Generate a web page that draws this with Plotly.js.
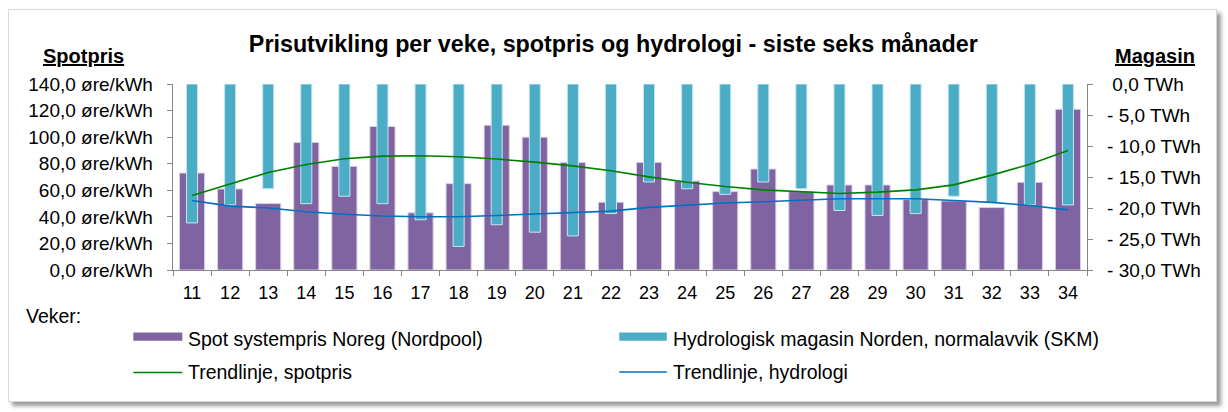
<!DOCTYPE html>
<html>
<head>
<meta charset="utf-8">
<script src="https://cdn.plot.ly/plotly-3.0.1.min.js"></script>
<style>
  body { margin: 0; background: #ffffff; }
  #frame {
    position: absolute; left: 8px; top: 9px;
    width: 1207px; height: 391px;
    border: 1px solid #d9d9d9;
    box-shadow: 4px 4px 4px #9a9a9a;
    background: #ffffff;
  }
  #chart { width: 1207px; height: 391px; }
</style>
</head>
<body>
<div id="frame"><div id="chart"></div></div>
<script>
const FONT = 'Liberation Sans, Arial, sans-serif';
const PURPLE = '#8064A2';
const CYAN = '#4BACC6';
const GREEN = '#008000';
const BLUE = '#0070C0';
const AXIS = '#868686';

// weeks on the x axis
const weeks = ['11', '12', '13', '14', '15', '16', '17', '18', '19', '20', '21', '22',
               '23', '24', '25', '26', '27', '28', '29', '30', '31', '32', '33', '34'];

// spot system price Norway, øre/kWh
const spot = [73, 61, 50, 96, 78, 108, 43, 65, 109, 100, 81, 51,
              81, 67, 59, 76, 59, 64, 64, 53, 52, 47, 66, 121];

// reservoir deviation from normal, TWh
const hydro = [-22.4, -19.5, -16.9, -19.3, -18.1, -19.3, -21.9, -26.2, -22.7, -23.9, -24.5, -20.9,
               -15.8, -16.9, -17.8, -15.8, -16.9, -20.4, -21.2, -20.9, -18.1, -19.1, -19.5, -19.5];

// trend lines
const spotTrend = [56.0, 64.6, 73.4, 79.4, 83.7, 85.7, 86.0, 85.2, 83.5, 81.2, 78.4, 74.7,
                   70.1, 66.1, 62.8, 60.3, 58.8, 57.6, 58.6, 60.3, 64.1, 71.4, 79.6, 89.9];
const hydroTrend = [-18.8, -19.7, -20.0, -20.6, -21.0, -21.3, -21.4, -21.4, -21.2, -21.0, -20.7, -20.5,
                    -19.9, -19.5, -19.2, -19.0, -18.7, -18.5, -18.5, -18.5, -18.8, -19.1, -19.6, -20.3];

// tick labels
const leftTicks = [0, 20, 40, 60, 80, 100, 120, 140];
const leftLabels = ['0,0 øre/kWh', '20,0 øre/kWh', '40,0 øre/kWh', '60,0 øre/kWh',
                    '80,0 øre/kWh', '100,0 øre/kWh', '120,0 øre/kWh', '140,0 øre/kWh'];
const rightTicks = [0, -5, -10, -15, -20, -25, -30];
const rightLabels = ['\u00a00,0 TWh', '- 5,0 TWh', '- 10,0 TWh', '- 15,0 TWh',
                     '- 20,0 TWh', '- 25,0 TWh', '- 30,0 TWh'];

// legend entries
const legendNames = ['Spot systempris Noreg (Nordpool)', 'Hydrologisk magasin Norden, normalavvik (SKM)',
                     'Trendlinje, spotpris', 'Trendlinje, hydrologi'];

// plot area in page pixels
const PL = 172.7, PR = 1086.7, PT = 84.3, PB = 270;
const px = (x) => (x - PL) / (PR - PL);
const py = (y) => (PB - y) / (PB - PT);

const traces = [
    {
        type: 'bar', x: weeks, y: spot, yaxis: 'y', width: 0.66,
        marker: { color: PURPLE, line: { color: '#d8d0e6', width: 1 } },
        name: legendNames[0], hoverinfo: 'x+y'
    },
    {
        type: 'bar', x: weeks, y: hydro, yaxis: 'y2', width: 0.29,
        marker: { color: CYAN, line: { color: '#c6e6ef', width: 1 } },
        name: legendNames[1], hoverinfo: 'x+y'
    },
    {
        type: 'scatter', mode: 'lines', x: weeks, y: hydroTrend, yaxis: 'y2',
        line: { color: BLUE, width: 1.6 }, name: legendNames[3]
    },
    {
        type: 'scatter', mode: 'lines', x: weeks, y: spotTrend, yaxis: 'y3',
        line: { color: GREEN, width: 1.6 }, name: legendNames[2]
    }
];

const txt = (text, x, y, opts) => Object.assign({
    text: text, xref: 'paper', yref: 'paper', x: px(x), y: py(y),
    showarrow: false, xanchor: 'left', yanchor: 'middle',
    font: { family: FONT, size: 19.5, color: '#000000' }
}, opts || {});

const layout = {
    width: 1207, height: 391,
    margin: { l: PL - 9, r: 1207 - (PR - 9), t: PT - 10, b: 391 - (PB - 10) },
    paper_bgcolor: '#ffffff',
    plot_bgcolor: 'rgba(0,0,0,0)',
    showlegend: false,
    barmode: 'overlay',
    font: { family: FONT, size: 18, color: '#000000' },
    title: {
        text: '<b>Prisutvikling per veke, spotpris og hydrologi - siste seks månader</b>',
        font: { family: FONT, size: 23.3, color: '#000000' },
        x: px(613), xanchor: 'center', xref: 'paper',
        y: 1 - (44 - 10) / 391, yanchor: 'middle'
    },
    xaxis: {
        type: 'category', range: [-0.5, 23.5],
        showline: true, linecolor: AXIS, linewidth: 1.3,
        ticks: 'outside', tickson: 'boundaries', ticklen: 5, tickcolor: AXIS,
        tickfont: { family: FONT, size: 18 }, ticklabelstandoff: 6,
        showgrid: false, zeroline: false, fixedrange: true
    },
    yaxis: {
        range: [0, 140], tickvals: leftTicks, ticktext: leftLabels,
        showline: true, linecolor: AXIS, linewidth: 1.3,
        ticks: 'outside', ticklen: 5, tickcolor: AXIS, ticklabelstandoff: 10,
        tickfont: { family: FONT, size: 19 },
        showgrid: false, zeroline: false, fixedrange: true
    },
    yaxis2: {
        overlaying: 'y', side: 'right', range: [-30, 0],
        tickvals: rightTicks, ticktext: rightLabels,
        showline: true, linecolor: AXIS, linewidth: 1.3,
        ticks: 'outside', ticklen: 5, tickcolor: AXIS, ticklabelstandoff: 10,
        tickfont: { family: FONT, size: 19 },
        showgrid: false, zeroline: false, fixedrange: true
    },
    yaxis3: {
        overlaying: 'y', range: [0, 140], visible: false, fixedrange: true
    },
    annotations: [
        txt('<b><u>Spotpris</u></b>', 83, 56, { xanchor: 'center', font: { family: FONT, size: 20 } }),
        txt('<b><u>Magasin</u></b>', 1155, 56, { xanchor: 'center', font: { family: FONT, size: 20 } }),
        txt('Veker:', 24, 316),
        txt(legendNames[0], 186, 338.5),
        txt(legendNames[1], 671, 338.5),
        txt(legendNames[2], 186, 372),
        txt(legendNames[3], 671, 372)
    ],
    shapes: [
        { type: 'rect', xref: 'paper', yref: 'paper', x0: px(133), x1: px(182), y0: py(332.3), y1: py(340.7),
          fillcolor: PURPLE, line: { width: 0 } },
        { type: 'rect', xref: 'paper', yref: 'paper', x0: px(619), x1: px(666.5), y0: py(332.3), y1: py(340.7),
          fillcolor: CYAN, line: { width: 0 } },
        { type: 'line', xref: 'paper', yref: 'paper', x0: px(133), x1: px(182), y0: py(372.3), y1: py(372.3),
          line: { color: GREEN, width: 1.6 } },
        { type: 'line', xref: 'paper', yref: 'paper', x0: px(619), x1: px(666.5), y0: py(371.8), y1: py(371.8),
          line: { color: BLUE, width: 1.6 } }
    ]
};

Plotly.newPlot('chart', traces, layout, { displayModeBar: false, staticPlot: true });
</script>
</body>
</html>
